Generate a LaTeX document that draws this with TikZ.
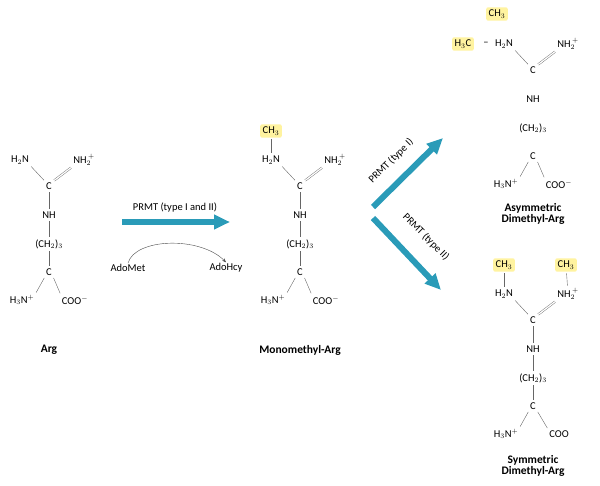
\documentclass[tikz,border=0pt]{standalone}
\usepackage{fontspec}
\setmainfont{Carlito}
\usetikzlibrary{arrows.meta}
\definecolor{arrblue}{HTML}{2A9BB8}
\definecolor{hl}{HTML}{FFF3A0}
\tikzset{
 t/.style={inner sep=1pt,font=\fontsize{10.5}{12}\selectfont},
 lab/.style={font=\bfseries\fontsize{11.5}{13}\selectfont,align=center},
 me/.style={t,fill=hl,rounded corners=2pt,inner sep=2.5pt},
 bond/.style={gray!80!black,line width=0.4pt,shorten <=1.5pt,shorten >=1.5pt},
 dbl/.style={bond,double,double distance=1.3pt},
 big/.style={arrblue,line width=6pt,-{Triangle[length=16pt,width=14pt]}},
}
\newcommand\argmol[5]{%
 \begin{scope}[shift={(#2,#3)}]
 \node[t] (#1C) at (0,0) {C};
 \node[t] (#1A) at (-29,-26) {H$_2$N};
 \node[t] (#1B) at (35,-26) {NH$_2^{\,+}$};
 \node[t] (#1N) at (0,29) {NH};
 \node[t] (#1M) at (0,58) {(CH$_2$)$_3$};
 \node[t] (#1D) at (0,86) {C};
 \node[t] (#1E) at (-27,114) {H$_3$N$^+$};
 \node[t] (#1F) at (26,114) {#5};
 \end{scope}
 \draw[bond] (#1A.south east) -- (#1C.north west);
 \draw[dbl] (#1B.south west) -- (#1C.north east);
 \ifnum#4=1
 \draw[bond] (#1C) -- (#1N);
 \draw[bond] (#1N) -- (#1M);
 \draw[bond] (#1M) -- (#1D);
 \fi
 \draw[bond] (#1D.south west) -- (#1E.north east);
 \draw[bond] (#1D.south east) -- (#1F.north west);
}
\begin{document}
\begin{tikzpicture}[x=1pt,y=-1pt]
\useasboundingbox (0,0) rectangle (600,485);
\argmol{a}{49}{186}{1}{COO$^-$}
\node[lab] (arg) at (49,350) {Arg};
\argmol{m}{300}{186}{1}{COO$^-$}
\node[me] (mme) at (271,131) {CH$_3$};
\draw[bond] (mme) -- (mA);
\node[lab] (mono) at (300,350) {Monomethyl-Arg};
\argmol{s}{533}{70}{0}{COO$^-$}
\node[me] (sme1) at (497,14) {CH$_3$};
\node[me] (sme2) at (463,44) {H$_3$C};
\node[t] (dash) at (486,44) {--};
\node[lab] (asym) at (533,214) {Asymmetric\\[-2pt]Dimethyl-Arg};
\argmol{y}{533}{320}{1}{COO}
\node[me] (yme1) at (504,265) {CH$_3$};
\node[me] (yme2) at (566,265) {CH$_3$};
\draw[bond] (yme1) -- (yA);
\draw[bond] (yme2) -- (yB);
\node[lab] (sym) at (533,466) {Symmetric\\[-2pt]Dimethyl-Arg};
\coordinate (p1) at (122,222);
\coordinate (p2) at (230,222);
\draw[big] (p1) -- (p2);
\node[t] (prmt) at (175,208) {PRMT (type I and II)};
\node[t] (ado1) at (128,268) {AdoMet};
\node[t] (ado2) at (226,268) {AdoHcy};
\draw[gray!60!black,line width=0.4pt,-{Stealth[length=4pt]}] (ado1.north) .. controls (135,238) and (200,236) .. (ado2.north);
\coordinate (u1) at (373,207);
\coordinate (u2) at (443,138);
\coordinate (l1) at (373,218);
\coordinate (l2) at (441,290);
\draw[big] (u1) -- (u2);
\draw[big] (l1) -- (l2);
\node[t,rotate=45] (pt1) at (391,161) {PRMT (type I)};
\node[t,rotate=-45] (pt2) at (426,237) {PRMT (type II)};
\end{tikzpicture}
\end{document}
